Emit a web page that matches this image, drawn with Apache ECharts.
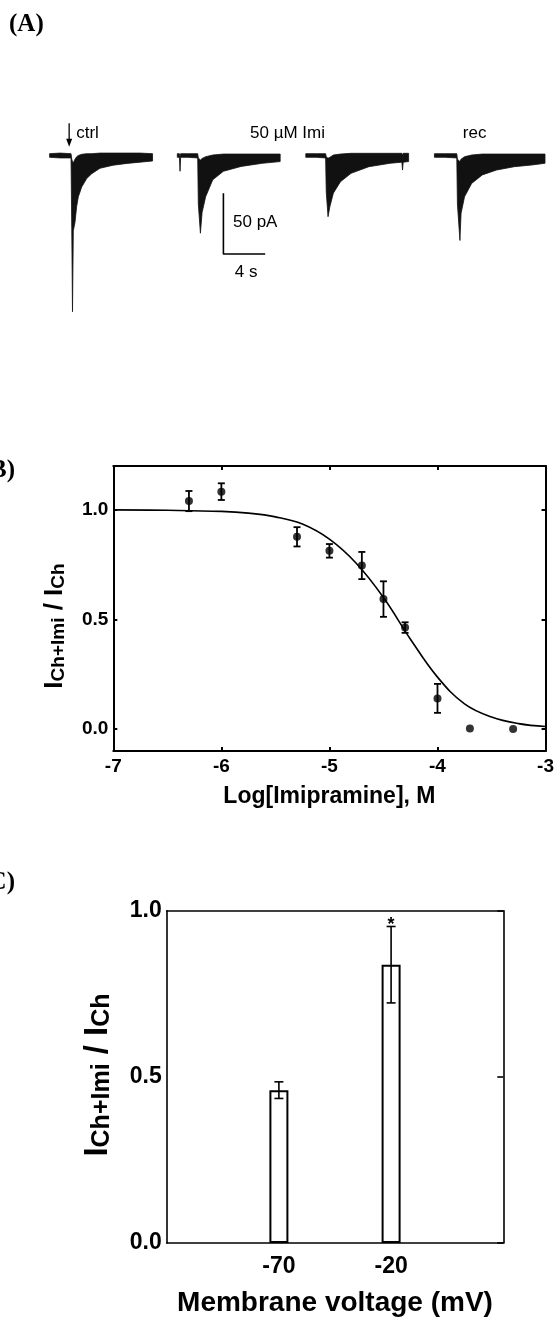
<!DOCTYPE html>
<html>
<head>
<meta charset="utf-8">
<script src="https://cdn.jsdelivr.net/npm/echarts@6/dist/echarts.min.js"></script>
<style>
  html, body { margin: 0; padding: 0; background: #fff; }
  #container { width: 557px; height: 1318px; }
</style>
</head>
<body>
<div id="container"></div>
<script>
// ---- panel A: current traces (envelope of the noisy trace), time from trace start in s, current in pA
const traceStart = [0, 12.22, 24.51, 36.82];

const ctrlT  = [0, 1.0, 2.05, 2.12, 2.19, 2.27, 2.43, 2.59, 2.75, 3.07, 3.55, 4.03, 4.82, 6.07, 7.41, 8.65, 9.85];
const ctrlUp = [1.5, 2, 1.5, -3, -5, -6, -3, -1, 0, 1, 1.5, 1.5, 2, 2, 2, 2, 1.5];
const ctrlLo = [-1.5, -2, -2, -60, -128.7, -62, -55, -42, -34, -26, -19, -15, -10.5, -8, -6.5, -5.5, -4.5];

const imi1T  = [0, 0.2, 0.26, 0.32, 1.0, 1.95, 2.01, 2.21, 2.37, 2.71, 3.39, 4.41, 6.10, 8.14, 9.84];
const imi1Up = [1.5, 1.5, -1, 1.5, 1.5, 1.5, -2, -3.7, -2.5, -1, 0.4, 1.2, 1.2, 1.2, 1.2];
const imi1Lo = [-1.5, -1.5, -13, -1.5, -1.5, -2, -40, -64, -47, -34, -20, -13, -9, -6.4, -5];

const imi2T  = [0, 1.0, 1.9, 1.96, 2.13, 2.31, 2.64, 3.32, 4.33, 6.04, 8.07, 9.2, 9.26, 9.32, 9.84];
const imi2Up = [1.5, 1.5, 1.5, -1, -2.3, -1.5, 0.4, 1.2, 1.8, 1.8, 1.8, 1.8, 0, 1.8, 1.8];
const imi2Lo = [-1.5, -1.5, -2, -30, -50.4, -42, -31, -21.6, -14.7, -9.2, -6.4, -5.5, -12, -5.5, -5];

const recT  = [0, 1.0, 2.14, 2.2, 2.44, 2.55, 2.88, 3.56, 4.58, 5.94, 7.64, 9.33, 10.58];
const recUp = [1.5, 1.5, 1.5, -3, -5, -3, -1, 0.4, 1.2, 1.2, 1.2, 1.2, 1.2];
const recLo = [-1.5, -1.5, -2, -40, -70, -47.6, -34, -23, -16, -12, -9.2, -7.8, -6.4];

const arrowAt = [1.87, 26.5, 7.2];        // time, from pA, to pA
const scaleBarCorner = [16.63, -81.1];    // s, pA
const scaleBarPA = 50;
const scaleBarSec = 4;

// ---- panel B: concentration-response
const logConc  = [-6.3, -6, -5.3, -5, -4.7, -4.5, -4.3, -4, -3.7, -3.3];
const ratio    = [1.04, 1.083, 0.877, 0.813, 0.746, 0.593, 0.463, 0.14, 0.003, 0.0];
const ratioErr = [0.046, 0.038, 0.044, 0.031, 0.062, 0.081, 0.024, 0.066, 0, 0];

const fitX = [-7, -6.5, -6, -5.75, -5.5, -5.25, -5, -4.75, -4.5, -4.25, -4, -3.75, -3.5, -3.25, -3];
const fitY = [1.0, 0.998, 0.993, 0.985, 0.968, 0.935, 0.866, 0.755, 0.6, 0.41, 0.237, 0.115, 0.055, 0.025, 0.012];

// ---- panel C: voltage dependence
const voltages = ['-70', '-20'];
const barMean = [0.46, 0.8375];
const barErr = [0.025, 0.115];
const barSig = ['', '*'];

const SANS = 'Liberation Sans, Arial, sans-serif';
const SERIF = 'Liberation Serif, Times New Roman, serif';

const traces = [
  { t: ctrlT, up: ctrlUp, lo: ctrlLo },
  { t: imi1T, up: imi1Up, lo: imi1Lo },
  { t: imi2T, up: imi2Up, lo: imi2Lo },
  { t: recT, up: recUp, lo: recLo }
];

function errorBars(capHalf, lw) {
  return function (params, api) {
    const x = api.value(0), y = api.value(1), e = api.value(2);
    if (!e) return null;
    const hi = api.coord([x, y + e]);
    const lo = api.coord([x, y - e]);
    const st = { stroke: '#000', lineWidth: lw };
    const kids = [
      { type: 'line', shape: { x1: hi[0], y1: hi[1], x2: lo[0], y2: lo[1] }, style: st },
      { type: 'line', shape: { x1: hi[0] - capHalf, y1: hi[1], x2: hi[0] + capHalf, y2: hi[1] }, style: st },
      { type: 'line', shape: { x1: lo[0] - capHalf, y1: lo[1], x2: lo[0] + capHalf, y2: lo[1] }, style: st }
    ];
    if (api.value(3) === 1) {
      kids.push({ type: 'text', x: hi[0], y: hi[1] - 1.5,
        style: { text: '*', textAlign: 'center', textVerticalAlign: 'middle', font: 'bold 18px ' + SANS, fill: '#000' } });
    }
    return { type: 'group', children: kids };
  };
}

const frameB = { color: '#000', width: 2 };
const frameC = { color: '#000', width: 1.6 };
const catsC = [''].concat(voltages, ['']);

function yName(main, sub1, sub2) {
  return '{m|' + main + '}{s|' + sub1 + '}{m| / ' + main + '}{s|' + sub2 + '}';
}
function richName(fsMain, fsSub) {
  return {
    m: { fontSize: fsMain, fontWeight: 'bold', fontFamily: SANS, lineHeight: fsMain + 6, verticalAlign: 'bottom' },
    s: { fontSize: fsSub, fontWeight: 'bold', fontFamily: SANS, lineHeight: fsSub - 4, verticalAlign: 'bottom' }
  };
}

var dom = document.getElementById('container');
var myChart = echarts.init(dom, null, { renderer: 'canvas' });

var option = {
  animation: false,
  backgroundColor: '#fff',
  grid: [
    { left: 49.6, top: 120.3, width: 495.4, height: 199.1 },
    { left: 113.3, top: 466, width: 432.7, height: 285 },
    { left: 166.7, top: 910.7, width: 336.6, height: 336 }
  ],
  xAxis: [
    { gridIndex: 0, type: 'value', min: 0, max: 47.4, show: false },
    { gridIndex: 1, type: 'value', min: -7, max: -3, interval: 1, position: 'bottom',
      axisLine: { onZero: false, lineStyle: frameB }, axisTick: { inside: true, length: 4, lineStyle: frameB },
      axisLabel: { color: '#000', fontSize: 19, fontWeight: 'bold', fontFamily: SANS, margin: 6,
        showMinLabel: true, showMaxLabel: true },
      splitLine: { show: false },
      name: 'Log[Imipramine], M', nameLocation: 'middle', nameGap: 34,
      nameTextStyle: { color: '#000', fontSize: 23, fontWeight: 'bold', fontFamily: SANS } },
    { gridIndex: 1, type: 'value', min: -7, max: -3, interval: 1, position: 'top',
      axisLine: { onZero: false, lineStyle: frameB }, axisTick: { inside: true, length: 4, lineStyle: frameB },
      axisLabel: { show: false }, splitLine: { show: false } },
    { gridIndex: 2, type: 'category', data: catsC, boundaryGap: false, position: 'bottom',
      axisLine: { onZero: false, lineStyle: frameC }, axisTick: { show: false },
      axisLabel: { color: '#000', fontSize: 23, fontWeight: 'bold', fontFamily: SANS, margin: 12, interval: 0 },
      name: 'Membrane voltage (mV)', nameLocation: 'middle', nameGap: 46,
      nameTextStyle: { color: '#000', fontSize: 28, fontWeight: 'bold', fontFamily: SANS } },
    { gridIndex: 2, type: 'category', data: catsC, boundaryGap: false, position: 'top',
      axisLine: { onZero: false, lineStyle: frameC }, axisTick: { show: false }, axisLabel: { show: false } }
  ],
  yAxis: [
    { gridIndex: 0, type: 'value', min: -135, max: 29, show: false },
    { gridIndex: 1, type: 'value', min: -0.1, max: 1.2, position: 'left',
      axisLine: { show: true, onZero: false, lineStyle: frameB },
      axisTick: { show: true, inside: true, length: 4, lineStyle: frameB, customValues: [0, 0.5, 1] },
      axisLabel: { color: '#000', fontSize: 19, fontWeight: 'bold', fontFamily: SANS, margin: 5,
        customValues: [0, 0.5, 1], formatter: function (v) { return v.toFixed(1); } },
      splitLine: { show: false } },
    { gridIndex: 1, type: 'value', min: -0.1, max: 1.2, position: 'right',
      axisLine: { show: true, onZero: false, lineStyle: frameB },
      axisTick: { show: true, inside: true, length: 4, lineStyle: frameB, customValues: [0, 0.5, 1] },
      axisLabel: { show: false }, splitLine: { show: false } },
    { gridIndex: 2, type: 'value', min: 0, max: 1, interval: 0.5, position: 'left',
      axisLine: { show: true, onZero: false, lineStyle: frameC }, axisTick: { show: false },
      axisLabel: { color: '#000', fontSize: 23, fontWeight: 'bold', fontFamily: SANS, margin: 5,
        formatter: function (v) { return v.toFixed(1); } },
      splitLine: { show: false } },
    { gridIndex: 2, type: 'value', min: 0, max: 1, interval: 0.5, position: 'right',
      axisLine: { show: true, onZero: false, lineStyle: frameC },
      axisTick: { show: true, inside: true, length: 6, lineStyle: frameC },
      axisLabel: { show: false }, splitLine: { show: false } }
  ],
  graphic: [
    { type: 'text', x: 9, y: 25, style: { text: '(A)', font: 'bold 25px ' + SERIF, fill: '#000', textVerticalAlign: 'middle' } },
    { type: 'text', x: 15, y: 471, style: { text: '(B)', font: 'bold 25px ' + SERIF, fill: '#000', textAlign: 'right', textVerticalAlign: 'middle' } },
    { type: 'text', x: 15, y: 883, style: { text: '(C)', font: 'bold 25px ' + SERIF, fill: '#000', textAlign: 'right', textVerticalAlign: 'middle' } },
    { type: 'text', x: 76.2, y: 133.3, style: { text: 'ctrl', font: '17px ' + SANS, fill: '#000', textVerticalAlign: 'middle' } },
    { type: 'text', x: 250, y: 133.3, style: { text: '50 \u00b5M Imi', font: '17px ' + SANS, fill: '#000', textVerticalAlign: 'middle' } },
    { type: 'text', x: 462.8, y: 133.3, style: { text: 'rec', font: '17px ' + SANS, fill: '#000', textVerticalAlign: 'middle' } },
    { type: 'text', x: 233, y: 222.7, style: { text: '50 pA', font: '17px ' + SANS, fill: '#000', textVerticalAlign: 'middle' } },
    { type: 'text', x: 234.8, y: 272.7, style: { text: '4 s', font: '17px ' + SANS, fill: '#000', textVerticalAlign: 'middle' } },
    { type: 'text', x: 52, y: 626, rotation: Math.PI / 2,
      style: { text: yName('I', 'Ch+Imi', 'Ch'), rich: richName(26, 19), fill: '#000', textAlign: 'center', textVerticalAlign: 'middle' } },
    { type: 'text', x: 95, y: 1075, rotation: Math.PI / 2,
      style: { text: yName('I', 'Ch+Imi', 'Ch'), rich: richName(33, 25), fill: '#000', textAlign: 'center', textVerticalAlign: 'middle' } }
  ],
  series: [
    // A: traces as filled envelopes
    { type: 'custom', xAxisIndex: 0, yAxisIndex: 0, clip: false,
      data: traceStart.map(function (s) { return [s, 0]; }),
      renderItem: function (params, api) {
        const tr = traces[params.dataIndex];
        const s0 = traceStart[params.dataIndex];
        const pts = [];
        for (let k = 0; k < tr.t.length; k++) pts.push(api.coord([s0 + tr.t[k], tr.up[k]]));
        for (let k = tr.t.length - 1; k >= 0; k--) pts.push(api.coord([s0 + tr.t[k], tr.lo[k]]));
        return { type: 'polygon', shape: { points: pts },
          style: { fill: '#111', stroke: '#111', lineWidth: 0.8 } };
      } },
    // A: scale bar
    { type: 'line', xAxisIndex: 0, yAxisIndex: 0, symbol: 'none',
      lineStyle: { color: '#000', width: 1.6 },
      data: [
        [scaleBarCorner[0], scaleBarCorner[1] + scaleBarPA],
        scaleBarCorner,
        [scaleBarCorner[0] + scaleBarSec, scaleBarCorner[1]]
      ] },
    // A: stimulus arrow
    { type: 'custom', xAxisIndex: 0, yAxisIndex: 0, clip: false,
      data: [arrowAt],
      renderItem: function (params, api) {
        const a = api.coord([api.value(0), api.value(1)]);
        const b = api.coord([api.value(0), api.value(2)]);
        return { type: 'group', children: [
          { type: 'line', shape: { x1: a[0], y1: a[1], x2: b[0], y2: b[1] - 5 }, style: { stroke: '#000', lineWidth: 1.3 } },
          { type: 'polygon', shape: { points: [[b[0] - 3, b[1] - 8], [b[0] + 3, b[1] - 8], [b[0], b[1]]] }, style: { fill: '#000' } }
        ] };
      } },
    // B: fit
    { type: 'line', xAxisIndex: 1, yAxisIndex: 1, symbol: 'none', smooth: 0.4,
      lineStyle: { color: '#000', width: 1.6 },
      data: fitX.map(function (x, i) { return [x, fitY[i]]; }) },
    // B: error bars
    { type: 'custom', xAxisIndex: 1, yAxisIndex: 1, z: 3,
      renderItem: errorBars(3.5, 1.8),
      data: logConc.map(function (x, i) { return [x, ratio[i], ratioErr[i], 0]; }) },
    // B: means
    { type: 'scatter', xAxisIndex: 1, yAxisIndex: 1, symbol: 'circle', symbolSize: 8, z: 4,
      itemStyle: { color: '#000' },
      data: logConc.map(function (x, i) { return [x, ratio[i]]; }) },
    // C: bars
    { type: 'bar', xAxisIndex: 3, yAxisIndex: 3, barWidth: 19,
      itemStyle: { color: '#fff', borderColor: '#000', borderWidth: 2 },
      data: [null].concat(barMean, [null]) },
    // C: error bars
    { type: 'custom', xAxisIndex: 3, yAxisIndex: 3, z: 5,
      renderItem: errorBars(4.5, 1.6),
      data: voltages.map(function (v, i) { return [i + 1, barMean[i], barErr[i], barSig[i] ? 1 : 0]; }) }
  ]
};

myChart.setOption(option, true);
</script>
</body>
</html>
